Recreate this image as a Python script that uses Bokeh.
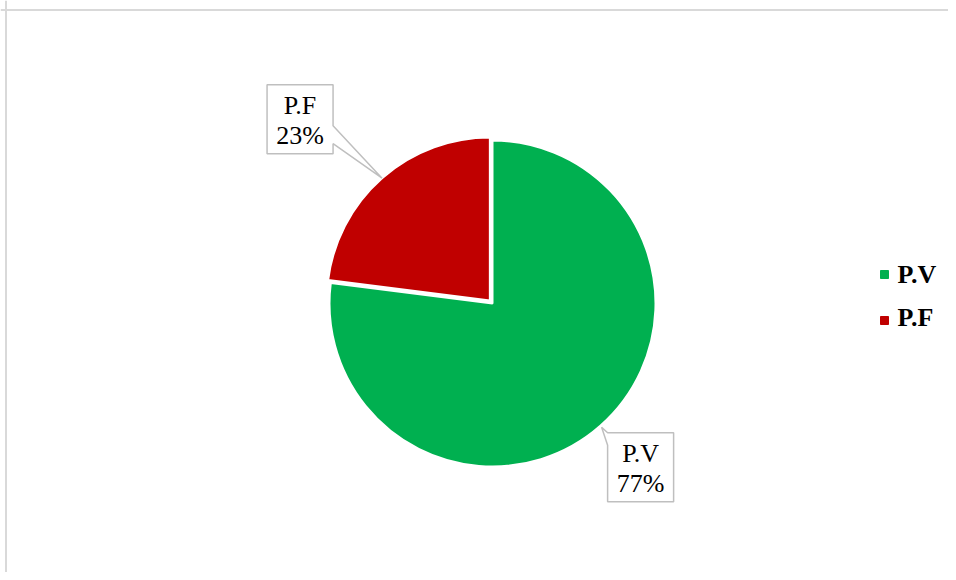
import math
from bokeh.plotting import figure
from bokeh.models import Range1d, Span, ColumnDataSource
from bokeh.core.properties import value
from bokeh.embed import file_html
from bokeh.resources import INLINE

# ---- data ----
categories = ["P.V", "P.F"]
values = [77, 23]
colors = ["#00B050", "#C00000"]

# ---- style ----
radius = 163
explode = [0, 4]
tip_radius = [165, 163]
label_offsets = [(39, -40), (-82, 59)]
tail_bases = [(34.5, 22), (-6.5, -24.5)]
box_w, box_h = 66, 69

p = figure(width=948, height=572, output_backend="svg", toolbar_location=None,
           x_range=Range1d(-492, 456), y_range=Range1d(-269, 303),
           min_border=0, outline_line_color=None, background_fill_color="white")
p.axis.visible = False
p.grid.visible = False

# chart area border (left, top)
p.add_layout(Span(location=-486.5, dimension="height", line_color="#D9D9D9", line_width=2))
p.add_layout(Span(location=293.5, dimension="width", line_color="#D9D9D9", line_width=2))

total = float(sum(values))
cum = 0.0
starts, ends, mids, cxs, cys = [], [], [], [], []
for i, v in enumerate(values):
    s = 90 - 360 * cum / total
    cum += v
    e = 90 - 360 * cum / total
    m = (s + e) / 2
    starts.append(s); ends.append(e); mids.append(m)
    cxs.append(explode[i] * math.cos(math.radians(m)))
    cys.append(explode[i] * math.sin(math.radians(m)))

src = ColumnDataSource(dict(x=cxs, y=cys, start=starts, end=ends, color=colors, cat=categories))
p.wedge(x="x", y="y", radius=radius, start_angle="start", end_angle="end",
        start_angle_units="deg", end_angle_units="deg", direction="clock",
        fill_color="color", line_color="white", line_width=2, source=src)

# ---- callouts ----
xs_all, ys_all = [], []
name_x, name_y, pct_x, pct_y, names, pcts = [], [], [], [], [], []
hw, hh = box_w / 2, box_h / 2
for i, v in enumerate(values):
    m = math.radians(mids[i])
    tx = cxs[i] + tip_radius[i] * math.cos(m)
    ty = cys[i] + tip_radius[i] * math.sin(m)
    bx = tx + label_offsets[i][0]
    by = ty + label_offsets[i][1]
    b1, b2 = tail_bases[i]
    if label_offsets[i][0] < 0:  # tail on right edge
        pts = [(-hw, hh), (hw, hh), (hw, b1), (tx - bx, ty - by), (hw, b2), (hw, -hh), (-hw, -hh)]
    else:  # tail on left edge
        pts = [(-hw, hh), (hw, hh), (hw, -hh), (-hw, -hh), (-hw, b2), (tx - bx, ty - by), (-hw, b1)]
    xs_all.append([bx + a for a, _ in pts])
    ys_all.append([by + b for _, b in pts])
    name_x.append(bx); name_y.append(by + 14)
    pct_x.append(bx); pct_y.append(by - 16)
    names.append(categories[i])
    pcts.append(f"{round(v / total * 100)}%")

p.patches(xs_all, ys_all, fill_color="white", line_color="#BFBFBF", line_width=1.5)
p.text(name_x, name_y, text=names, text_font=value("Liberation Serif"), text_font_size="26px",
       text_align="center", text_baseline="alphabetic", text_color="#000000")
p.text(pct_x, pct_y, text=pcts, text_font=value("Liberation Serif"), text_font_size="26px",
       text_align="center", text_baseline="alphabetic", text_color="#000000")

# ---- legend ----
leg_x = 392
marker_y = [29, -17]
label_y = [29, -14]
p.scatter([leg_x] * len(categories), marker_y, marker="square", size=8,
          fill_color=colors, line_color=colors)
p.text([leg_x + 13] * len(categories), label_y, text=categories,
       text_font=value("Liberation Serif"), text_font_size="26px", text_font_style="bold",
       text_align="left", text_baseline="alphabetic", text_color="#000000")

open("out.html", "w").write(file_html(p, INLINE))
